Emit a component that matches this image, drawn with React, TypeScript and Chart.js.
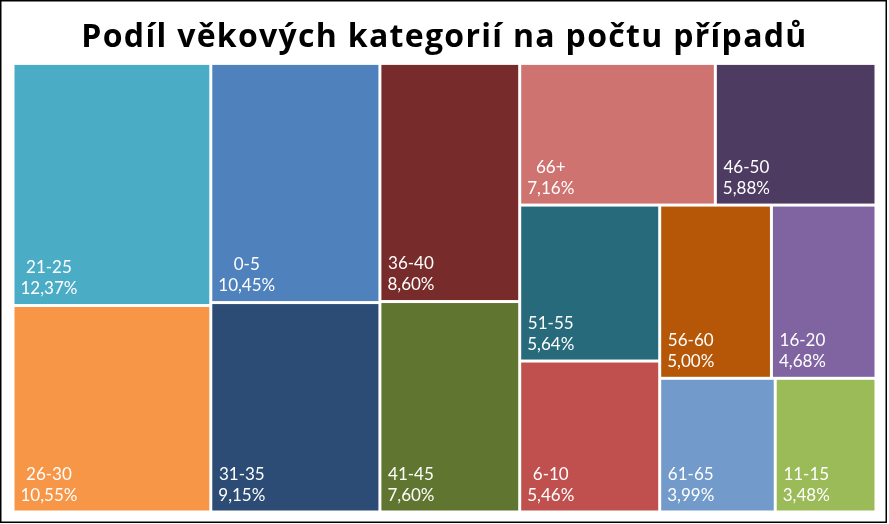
import React, { useEffect, useRef } from 'react';
import { Chart, registerables } from 'chart.js';

Chart.register(...registerables);

const title = 'Podíl věkových kategorií na počtu případů';
const categories = ['21-25', '26-30', '0-5', '31-35', '36-40', '41-45', '66+', '46-50', '51-55', '6-10', '56-60', '16-20', '61-65', '11-15'];
const shares = [12.37, 10.55, 10.45, 9.15, 8.6, 7.6, 7.16, 5.88, 5.64, 5.46, 5.0, 4.68, 3.99, 3.48];
const colors = ['#4BACC6', '#F79646', '#4F81BD', '#2C4C75', '#772B2A', '#5F7530', '#CF7371', '#4E3B62', '#276A7C', '#C0504D', '#B65708', '#8064A2', '#729ACA', '#9BBB59'];

type Rect = { x: number; y: number; w: number; h: number };

function squarify(vals: number[], rect: Rect, maxRow: number): Rect[] {
  const total = vals.reduce((a, b) => a + b, 0);
  const scale = (rect.w * rect.h) / total;
  const areas = vals.map((v) => v * scale);
  const out: Rect[] = [];
  let r = { ...rect };
  let i = 0;
  const worst = (row: number[], side: number) => {
    const s = row.reduce((a, b) => a + b, 0);
    const thick = s / side;
    let w = 0;
    for (const a of row) {
      const len = a / thick;
      w = Math.max(w, len / thick, thick / len);
    }
    return w;
  };
  while (i < areas.length) {
    const side = Math.min(r.w, r.h);
    const row = [areas[i]];
    i++;
    while (i < areas.length && row.length < maxRow && worst([...row, areas[i]], side) <= worst(row, side)) {
      row.push(areas[i]);
      i++;
    }
    const s = row.reduce((a, b) => a + b, 0);
    const thick = s / side;
    if (r.w >= r.h) {
      let y = r.y;
      for (const a of row) {
        const h = a / thick;
        out.push({ x: r.x, y, w: thick, h });
        y += h;
      }
      r = { x: r.x + thick, y: r.y, w: r.w - thick, h: r.h };
    } else {
      let x = r.x;
      for (const a of row) {
        const w = a / thick;
        out.push({ x, y: r.y, w, h: thick });
        x += w;
      }
      r = { x: r.x, y: r.y + thick, w: r.w, h: r.h - thick };
    }
  }
  return out;
}

const fmt = (v: number) => v.toFixed(2).replace('.', ',') + '%';

const treemapPlugin = {
  id: 'treemapCells',
  beforeDraw(chart: any) {
    const ctx = chart.ctx;
    ctx.save();
    ctx.fillStyle = '#ffffff';
    ctx.fillRect(0, 0, chart.width, chart.height);
    ctx.restore();
    ctx.letterSpacing = '1.3px';
  },
  beforeDatasetsDraw(chart: any) {
    const { ctx, chartArea, scales } = chart;
    ctx.letterSpacing = '0px';
    const aw = chartArea.right - chartArea.left;
    const ah = chartArea.bottom - chartArea.top;
    const rects = squarify(shares, { x: 0, y: 0, w: aw, h: ah }, 2);
    const xs = scales.x;
    const ys = scales.y;
    const gap = 1.5;
    ctx.save();
    rects.forEach((r, idx) => {
      const x0 = xs.getPixelForValue((r.x / aw) * 100) + gap;
      const x1 = xs.getPixelForValue(((r.x + r.w) / aw) * 100) - gap;
      const y0 = ys.getPixelForValue((r.y / ah) * 100) + gap;
      const y1 = ys.getPixelForValue(((r.y + r.h) / ah) * 100) - gap;
      ctx.fillStyle = colors[idx];
      ctx.fillRect(x0, y0, x1 - x0, y1 - y0);
      ctx.font = '17px Lato';
      ctx.fillStyle = '#ffffff';
      ctx.textBaseline = 'alphabetic';
      ctx.textAlign = 'center';
      const l1 = categories[idx];
      const l2 = fmt(shares[idx]);
      const bw = Math.max(ctx.measureText(l1).width, ctx.measureText(l2).width);
      const cx = x0 + 6 + bw / 2;
      ctx.fillText(l1, cx, y1 - 31);
      ctx.fillText(l2, cx, y1 - 10);
    });
    ctx.restore();
  },
  afterDraw(chart: any) {
    const ctx = chart.ctx;
    ctx.save();
    ctx.strokeStyle = '#000000';
    ctx.lineWidth = 1.5;
    ctx.strokeRect(0.75, 0.75, 885.5, 521.5);
    ctx.restore();
  },
};

export default function App() {
  const ref = useRef<HTMLCanvasElement | null>(null);
  useEffect(() => {
    document.body.style.margin = '0';
    if (!ref.current) return;
    const chart = new Chart(ref.current, {
      type: 'scatter',
      data: {
        datasets: [
          {
            label: 'Podíl',
            data: [],
            pointRadius: 0,
          },
        ],
      },
      options: {
        animation: false,
        responsive: true,
        maintainAspectRatio: false,
        layout: { padding: { left: 13, right: 13, top: 0, bottom: 12 } },
        scales: {
          x: { type: 'linear', min: 0, max: 100, display: false },
          y: { type: 'linear', min: 0, max: 100, reverse: true, display: false },
        },
        plugins: {
          legend: { display: false },
          tooltip: { enabled: false },
          title: {
            display: true,
            text: title,
            color: '#000000',
            font: { family: 'Open Sans', size: 32, weight: 'bold' },
            padding: { top: 19, bottom: 6 },
          },
        },
      },
      plugins: [treemapPlugin],
    });
    return () => chart.destroy();
  }, []);
  return (
    <div style={{ width: 889, height: 524, position: 'relative' }}>
      <canvas ref={ref} />
    </div>
  );
}
